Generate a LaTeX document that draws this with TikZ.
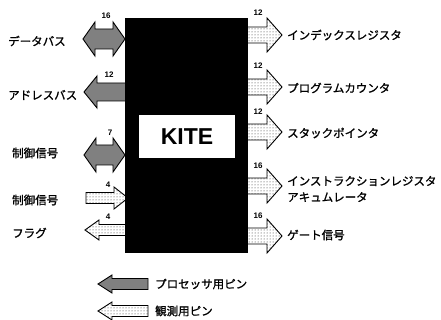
\documentclass[tikz,border=0pt]{standalone}
\usepackage{fontspec}
\setmainfont{Liberation Sans}
\newfontfamily\jp{Noto Sans CJK JP}[FakeBold=1.2]
\usetikzlibrary{patterns}
% right-pointing pin: x0, xtip, y, body half, head half, head length, style
\newcommand\PinR[7]{%
  \draw[#7] (#1,#3-#4) -- ({#2-#6},#3-#4) -- ({#2-#6},#3-#5) -- (#2,#3)
    -- ({#2-#6},#3+#5) -- ({#2-#6},#3+#4) -- (#1,#3+#4) -- cycle;}
% left-pointing pin: x0, xtip, y, body half, head half, head length, style
\newcommand\PinL[7]{%
  \draw[#7] (#1,#3-#4) -- ({#2+#6},#3-#4) -- ({#2+#6},#3-#5) -- (#2,#3)
    -- ({#2+#6},#3+#5) -- ({#2+#6},#3+#4) -- (#1,#3+#4) -- cycle;}
% double pin: xleft, xright, y, body half, head half, head length, style
\newcommand\PinD[7]{%
  \draw[#7] (#1,#3) -- ({#1+#6},#3-#5) -- ({#1+#6},#3-#4) -- ({#2-#6},#3-#4)
    -- ({#2-#6},#3-#5) -- (#2,#3) -- ({#2-#6},#3+#5) -- ({#2-#6},#3+#4)
    -- ({#1+#6},#3+#4) -- ({#1+#6},#3+#5) -- cycle;}
\begin{document}
\begin{tikzpicture}[x=1pt,y=-1pt,
  procpin/.style={draw=black, line width=0.9pt, fill=black!50},
  obspin/.style={draw=black, line width=0.9pt, pattern=dots, pattern color=black!85},
  lbl/.style={font=\jp\fontsize{11.5}{13.5}\selectfont, anchor=west, inner sep=0pt},
  num/.style={font=\bfseries\fontsize{8}{9}\selectfont, inner sep=0pt}]
\fill[white] (0,0) rectangle (441,320);
\useasboundingbox (0,0) rectangle (441,320);
% left pins
\PinD{83}{125}{39}{10}{17}{12}{procpin}
\PinL{130}{84}{92}{9}{16}{13}{procpin}
\PinD{84}{125}{155}{10}{17}{12}{procpin}
\PinR{86}{128}{198}{5.5}{11}{14}{obspin}
\PinL{130}{85}{230}{5.5}{10}{14}{obspin}
% right pins
\PinR{243}{282}{35}{8}{17}{15}{obspin}
\PinR{243}{282}{87}{8}{17}{15}{obspin}
\PinR{243}{282}{132}{8}{17}{15}{obspin}
\PinR{243}{282}{186}{8}{17}{15}{obspin}
\PinR{243}{282}{236}{8}{17}{15}{obspin}
% chip
\node[fill=black, minimum width=123pt, minimum height=235pt, inner sep=0pt,
      anchor=north west] (chip) at (125,18) {};
\node[fill=white, minimum width=96pt, minimum height=43pt, inner sep=0pt,
      font=\bfseries\fontsize{23}{26}\selectfont] (kite) at (187,136.5) {KITE};
% numbers
\node[num] (n1) at (106,16) {16};
\node[num] (n2) at (109,75) {12};
\node[num] (n3) at (110,133) {7};
\node[num] (n4) at (108,185) {4};
\node[num] (n5) at (108,217) {4};
\node[num] (n6) at (258,13) {12};
\node[num] (n7) at (258,66) {12};
\node[num] (n8) at (258,112) {12};
\node[num] (n9) at (258,166) {16};
\node[num] (n10) at (258,216) {16};
% left labels
\node[lbl] (l1) at (8,41) {データバス};
\node[lbl] (l2) at (8,95) {アドレスバス};
\node[lbl] (l3) at (12,153) {制御信号};
\node[lbl] (l4) at (12,200) {制御信号};
\node[lbl] (l5) at (12,233) {フラグ};
% right labels
\node[lbl] (r1) at (287,35) {インデックスレジスタ};
\node[lbl] (r2) at (287,88) {プログラムカウンタ};
\node[lbl] (r3) at (287,133) {スタックポインタ};
\node[lbl] (r4) at (287,181) {インストラクションレジスタ};
\node[lbl] (r5) at (287,197) {アキュムレータ};
\node[lbl] (r6) at (287,235) {ゲート信号};
% legend
\PinL{148}{98}{284}{5.5}{9}{14}{procpin}
\PinL{148}{98}{311}{5.5}{9}{14}{obspin}
\node[lbl] (g1) at (155,284) {プロセッサ用ピン};
\node[lbl] (g2) at (155,311) {観測用ピン};
\end{tikzpicture}
\end{document}
